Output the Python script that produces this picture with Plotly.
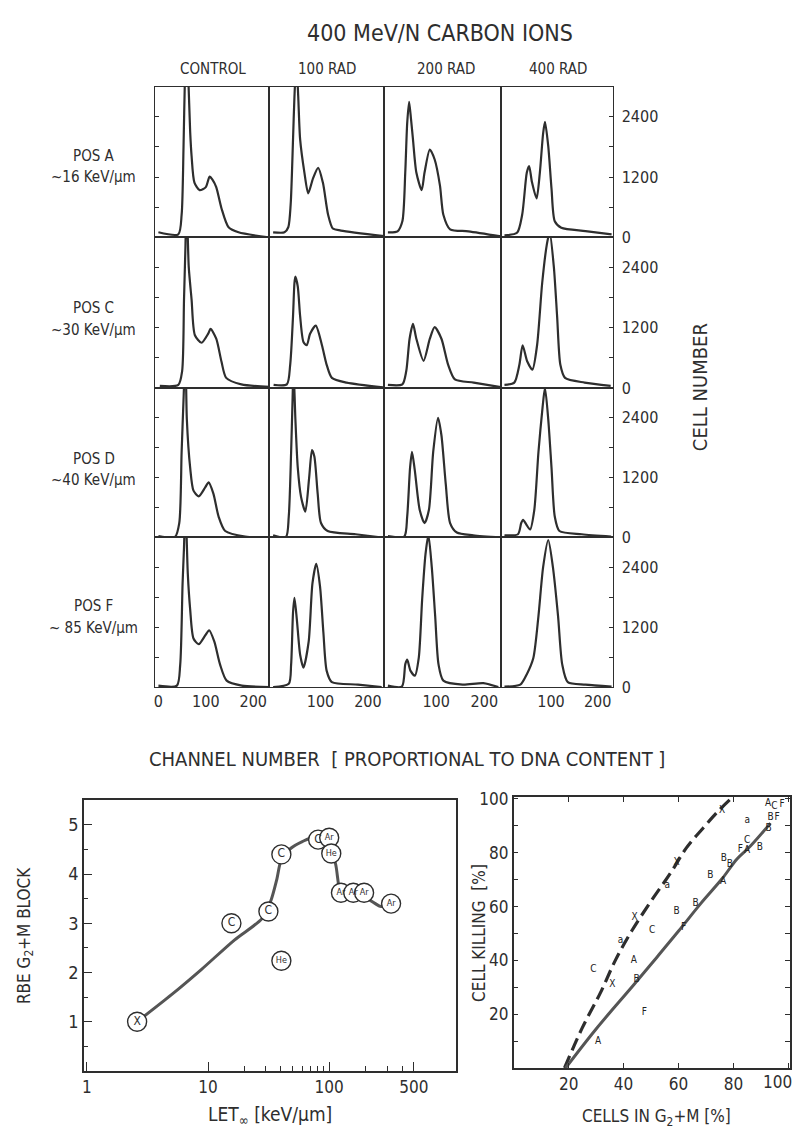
import plotly.graph_objects as go

W, H = 794, 1139
FONT = "DejaVu Sans Condensed, Liberation Sans Narrow, Roboto Condensed, DejaVu Sans, sans-serif"
INK = "#2e2e2e"

# ---------------- DNA histograms (channel number, cell number) ----------------
COL_TITLES = ["CONTROL", "100 RAD", "200 RAD", "400 RAD"]
ROW_TITLES = ["POS A", "POS C", "POS D", "POS F"]
ROW_LET = ["~16 KeV/µm", "~30 KeV/µm", "~40 KeV/µm", "~ 85 KeV/µm"]

A_CTRL_CH = [0, 42, 49, 53, 56, 59, 63, 67, 70, 76, 87, 100, 108, 114, 122, 133, 148, 169, 232]
A_CTRL_N = [100, 60, 450, 1800, 3200, 3900, 3200, 2100, 1620, 1090, 940, 1000, 1210, 1150, 1000, 580, 200, 100, 0]
A_100_CH = [0, 24, 32, 37, 42, 45, 49, 53, 57, 66, 74, 84, 95, 105, 116, 126, 143, 234]
A_100_N = [100, 100, 200, 650, 1950, 2800, 3500, 2800, 1950, 1290, 875, 1170, 1385, 1090, 450, 175, 135, 25]
A_200_CH = [0, 20, 30, 36, 40, 44, 48, 52, 59, 70, 76, 87, 97, 108, 115, 129, 167, 234]
A_200_N = [100, 120, 320, 1290, 2270, 2700, 2350, 1950, 1290, 940, 1290, 1750, 1550, 1030, 450, 160, 120, 20]
A_400_CH = [0, 27, 38, 48, 53, 59, 69, 76, 83, 87, 94, 101, 108, 122, 174, 230]
A_400_N = [40, 90, 450, 1290, 1420, 1100, 775, 1290, 2070, 2300, 1815, 970, 320, 190, 125, 60]

C_CTRL_CH = [3, 42, 50, 54, 57, 59, 61, 64, 70, 77, 91, 105, 110, 122, 133, 143, 175, 234]
C_CTRL_N = [40, 60, 330, 1760, 2800, 3600, 3300, 2410, 1760, 1050, 900, 1080, 1175, 980, 525, 200, 70, 20]
C_100_CH = [1, 29, 36, 42, 45, 47, 52, 57, 64, 71, 78, 90, 103, 113, 124, 155, 232]
C_100_N = [60, 70, 460, 1430, 2090, 2215, 2020, 1430, 915, 850, 1080, 1240, 850, 460, 200, 105, 10]
C_200_CH = [0, 30, 38, 45, 52, 59, 74, 87, 97, 111, 125, 139, 178, 234]
C_200_N = [60, 70, 330, 980, 1275, 980, 540, 980, 1210, 980, 460, 170, 105, 15]
C_400_CH = [0, 21, 32, 39, 49, 60, 70, 81, 91, 97, 106, 113, 120, 130, 172, 228]
C_400_N = [60, 105, 460, 850, 525, 365, 850, 2090, 2860, 3100, 2410, 1430, 460, 200, 105, 40]

D_CTRL_CH = [0, 35, 44, 49, 53, 57, 60, 67, 74, 85, 99, 106, 116, 127, 141, 183, 234]
D_CTRL_N = [30, 10, 290, 1720, 2760, 3700, 2370, 1400, 940, 825, 1010, 1105, 880, 420, 130, 20, 0]
D_100_CH = [0, 27, 33, 38, 41, 43, 47, 52, 59, 68, 76, 82, 87, 94, 101, 115, 174, 230]
D_100_N = [45, 10, 420, 1720, 2760, 3400, 2370, 1400, 810, 520, 1200, 1755, 1625, 880, 290, 130, 65, 0]
D_200_CH = [0, 34, 40, 46, 50, 56, 66, 76, 85, 94, 104, 111, 120, 129, 143, 177, 234]
D_200_N = [30, 20, 420, 1400, 1720, 1330, 550, 290, 550, 1720, 2400, 2050, 1070, 290, 100, 45, 0]
D_400_CH = [0, 29, 36, 40, 47, 55, 64, 73, 82, 87, 94, 101, 108, 118, 166, 229]
D_400_N = [45, 65, 290, 355, 260, 160, 550, 1720, 2630, 3000, 2370, 1400, 420, 130, 65, 20]

F_CTRL_CH = [0, 39, 46, 51, 54, 57, 62, 67, 74, 85, 99, 107, 118, 130, 144, 176, 234]
F_CTRL_N = [30, 30, 450, 2080, 2800, 3700, 2275, 1560, 975, 860, 1040, 1140, 910, 455, 130, 30, 0]
F_100_CH = [0, 33, 38, 42, 45, 50, 57, 64, 75, 83, 91, 99, 106, 113, 124, 179, 229]
F_100_N = [0, 65, 455, 1495, 1790, 1365, 650, 390, 910, 2080, 2470, 2015, 1100, 325, 100, 50, 0]
F_200_CH = [0, 29, 36, 40, 47, 56, 64, 71, 78, 84, 91, 98, 105, 115, 155, 198, 229]
F_200_N = [30, 10, 455, 550, 325, 230, 585, 1755, 2665, 3050, 2405, 1430, 455, 130, 50, 80, 0]
F_400_CH = [0, 34, 48, 62, 73, 83, 94, 104, 115, 124, 136, 174, 230]
F_400_N = [10, 50, 260, 585, 1430, 2405, 2950, 2405, 1430, 455, 100, 50, 10]

COUNT_TICKS = [0, 1200, 2400]
COUNT_MINOR = [600, 1800]
CHANNEL_TICKS_FIRST = [0, 100, 200]
CHANNEL_TICKS_OTHER = [100, 200]

# ---------------- RBE vs LET ----------------
LET_PTS = [2.6, 15.6, 40.3, 31.5, 40.3, 81, 100, 104, 125, 158, 194, 324]
RBE_PTS = [1.0, 3.0, 2.24, 3.24, 4.4, 4.7, 4.74, 4.42, 3.62, 3.62, 3.62, 3.4]
ION_LABELS = ["X", "C", "He", "C", "C", "C", "Ar", "He", "Ar", "Ar", "Ar", "Ar"]
FIT_LET = [2.6, 5, 8.8, 16.5, 28, 33, 37, 40.3, 48, 60, 73, 100, 113, 125, 140, 158, 176, 194, 209, 240, 268, 324]
FIT_RBE = [1.0, 1.55, 2.06, 2.66, 3.1, 3.46, 3.9, 4.3, 4.52, 4.66, 4.74, 4.6, 4.2, 3.62, 3.62, 3.62, 3.62, 3.6, 3.5, 3.4, 3.34, 3.4]
LET_TICKS = [1, 10, 100, 500]
LET_MINOR = [20, 30, 40, 50, 60, 70, 80, 90, 200, 300, 400]
RBE_TICKS = [1, 2, 3, 4, 5]
RBE_MINOR = [0.5, 1.5, 2.5, 3.5, 4.5]

# ---------------- Cell killing vs G2+M ----------------
G2M_PTS = [75.9, 59.3, 55.9, 44.0, 92.6, 94.9, 97.7, 93.5, 95.9, 85.0, 92.8, 85.0, 85.0, 82.5, 89.6,
           76.5, 78.7, 71.6, 76.2, 66.2, 59.3, 50.4, 61.9, 38.9, 43.7, 29.0, 35.9, 44.7, 47.6, 30.7]
KILL_PTS = [95.6, 76.3, 68.0, 55.9, 98.3, 97.1, 98.1, 93.2, 93.2, 92.0, 88.9, 84.4, 80.7, 81.3, 82.0,
            77.7, 75.6, 71.6, 69.2, 61.0, 58.1, 51.0, 52.3, 47.2, 40.1, 36.5, 31.0, 32.8, 20.5, 9.8]
KILL_LABELS = ["X", "X", "a", "X", "A", "C", "F", "B", "F", "a", "B", "C", "A", "F", "B",
               "B", "B", "B", "A", "B", "B", "C", "F", "a", "A", "C", "X", "B", "F", "A"]
XRAY_FIT_X = [18.5, 25, 31.6, 37, 43, 50, 57, 63, 69, 74, 79]
XRAY_FIT_Y = [0, 15, 28, 40, 51, 62, 72.3, 82, 89.2, 95, 100]
ION_FIT_X = [18.9, 30, 43.8, 52, 60.1, 68, 76, 81.3, 86.2, 93.5]
ION_FIT_Y = [0, 14.5, 31, 41, 51, 61, 70.5, 77.7, 82.5, 91]
G2M_TICKS = [20, 40, 60, 80, 100]
KILL_TICKS = [20, 40, 60, 80, 100]

# ---------------- geometry (pixels) ----------------
COL_EDGES = [153, 268, 383, 500, 613]
ROW_EDGES = [80, 233, 386, 538, 690]


def px(x):
    return x / W


def py(y):
    return 1 - y / H


fig = go.Figure()
layout = {}

panels = [
    [(A_CTRL_CH, A_CTRL_N), (A_100_CH, A_100_N), (A_200_CH, A_200_N), (A_400_CH, A_400_N)],
    [(C_CTRL_CH, C_CTRL_N), (C_100_CH, C_100_N), (C_200_CH, C_200_N), (C_400_CH, C_400_N)],
    [(D_CTRL_CH, D_CTRL_N), (D_100_CH, D_100_N), (D_200_CH, D_200_N), (D_400_CH, D_400_N)],
    [(F_CTRL_CH, F_CTRL_N), (F_100_CH, F_100_N), (F_200_CH, F_200_N), (F_400_CH, F_400_N)],
]

tickfont = dict(family=FONT, size=16, color=INK)

for r in range(4):
    for c in range(4):
        k = r * 4 + c + 1
        sfx = "" if k == 1 else str(k)
        ch, n = panels[r][c]
        fig.add_trace(go.Scatter(
            x=ch, y=n, mode="lines",
            line=dict(color=INK, width=2.2, shape="spline", smoothing=0.7),
            xaxis="x" + sfx, yaxis="y" + sfx, showlegend=False, hoverinfo="skip"))
        xa = dict(domain=[px(COL_EDGES[c]), px(COL_EDGES[c + 1])], range=[-8, 234],
                  anchor="y" + sfx, showline=True, mirror=True, linecolor=INK, linewidth=1.1,
                  showgrid=False, zeroline=False, ticks="", showticklabels=False, fixedrange=True)
        if r == 3:
            xa.update(showticklabels=True,
                      tickvals=CHANNEL_TICKS_FIRST if c == 0 else CHANNEL_TICKS_OTHER,
                      tickfont=tickfont)
        ya = dict(domain=[py(ROW_EDGES[r + 1]), py(ROW_EDGES[r])], range=[0, 3000],
                  anchor="x" + sfx, showline=True, mirror=True, linecolor=INK, linewidth=1.1,
                  showgrid=False, zeroline=False, ticks="", showticklabels=False, fixedrange=True)
        if c == 0:
            ya.update(ticks="inside", tickvals=COUNT_TICKS[1:], ticklen=4, tickcolor=INK,
                      minor=dict(ticks="inside", ticklen=4, tickcolor=INK, tickvals=COUNT_MINOR))
        if c == 3:
            ya.update(side="right", ticks="inside", tickvals=COUNT_TICKS,
                      ticklen=4, tickcolor=INK, showticklabels=True, tickfont=tickfont,
                      ticklabelstandoff=4,
                      minor=dict(ticks="inside", ticklen=4, tickcolor=INK, tickvals=COUNT_MINOR))
        layout["xaxis" + sfx] = xa
        layout["yaxis" + sfx] = ya

# ---------------- RBE vs LET panel (axis 17) ----------------
fig.add_trace(go.Scatter(x=FIT_LET, y=FIT_RBE, mode="lines",
                         line=dict(color="#555555", width=3, shape="spline", smoothing=0.8),
                         xaxis="x17", yaxis="y17", showlegend=False, hoverinfo="skip"))
fig.add_trace(go.Scatter(x=LET_PTS, y=RBE_PTS, mode="markers+text", text=ION_LABELS,
                         textposition="middle center",
                         textfont=dict(family=FONT, size=[12 if len(t) == 1 else 9 for t in ION_LABELS],
                                       color=INK),
                         marker=dict(symbol="circle", size=19, color="white",
                                     line=dict(color=INK, width=1.4)),
                         xaxis="x17", yaxis="y17", showlegend=False, hoverinfo="skip"))
layout["xaxis17"] = dict(domain=[px(82), px(455)], type="log", range=[-0.025, 3.045], anchor="y17",
                         showline=True, mirror=True, linecolor=INK, linewidth=1.5, showgrid=False,
                         zeroline=False, ticks="inside", ticklen=9, tickcolor=INK,
                         tickvals=LET_TICKS, ticktext=[str(v) for v in LET_TICKS],
                         tickfont=dict(family=FONT, size=17, color=INK),
                         minor=dict(ticks="inside", ticklen=5, tickcolor=INK, tickvals=LET_MINOR),
                         fixedrange=True)
layout["yaxis17"] = dict(domain=[py(1080), py(805)], range=[0, 5.5], anchor="x17",
                         showline=True, mirror=True, linecolor=INK, linewidth=1.5, showgrid=False,
                         zeroline=False, ticks="inside", ticklen=8, tickcolor=INK,
                         tickvals=RBE_TICKS, tickfont=dict(family=FONT, size=18, color=INK),
                         minor=dict(ticks="inside", ticklen=4, tickcolor=INK, tickvals=RBE_MINOR),
                         fixedrange=True)

# ---------------- Cell killing panel (axis 18) ----------------
fig.add_trace(go.Scatter(x=XRAY_FIT_X, y=XRAY_FIT_Y, mode="lines",
                         line=dict(color=INK, width=3.2, dash="13px,6px", shape="spline"),
                         xaxis="x18", yaxis="y18", showlegend=False, hoverinfo="skip"))
fig.add_trace(go.Scatter(x=ION_FIT_X, y=ION_FIT_Y, mode="lines",
                         line=dict(color="#555555", width=3, shape="spline"),
                         xaxis="x18", yaxis="y18", showlegend=False, hoverinfo="skip"))
fig.add_trace(go.Scatter(x=G2M_PTS, y=KILL_PTS, mode="text", text=KILL_LABELS,
                         textposition="middle center",
                         textfont=dict(family=FONT, size=10, color="#222222"),
                         xaxis="x18", yaxis="y18", showlegend=False, hoverinfo="skip"))
layout["xaxis18"] = dict(domain=[px(513), px(790)], range=[0, 100.6], anchor="y18",
                         showline=True, mirror="ticks", linecolor=INK, linewidth=1.5, showgrid=False,
                         zeroline=False, ticks="inside", ticklen=5, tickcolor=INK,
                         tickvals=G2M_TICKS, tickfont=dict(family=FONT, size=17, color=INK),
                         fixedrange=True)
layout["yaxis18"] = dict(domain=[py(1077), py(802)], range=[0, 100.6], anchor="x18",
                         showline=True, mirror="ticks", linecolor=INK, linewidth=1.5, showgrid=False,
                         zeroline=False, ticks="inside", ticklen=5, tickcolor=INK,
                         tickvals=KILL_TICKS, tickfont=dict(family=FONT, size=17, color=INK),
                         minor=dict(ticks="inside", ticklen=5, tickcolor=INK, dtick=10),
                         fixedrange=True)

# ---------------- text ----------------
annotations = []


def ann(text, x, y, size, angle=0, xanchor="center"):
    annotations.append(dict(text=text, x=px(x), y=py(y), xref="paper", yref="paper",
                            xanchor=xanchor, yanchor="middle", showarrow=False, textangle=angle,
                            font=dict(family=FONT, size=size, color=INK)))


ann("400 MeV/N CARBON IONS", 439, 25, 23)
for t, x in zip(COL_TITLES, [212, 326, 445, 557]):
    ann(t, x, 62, 15)
for t, l, y in zip(ROW_TITLES, ROW_LET, [150, 305, 458, 608]):
    ann(t, 92, y, 15)
    ann(l, 92, y + 22, 15)
ann("CELL NUMBER", 700, 385, 20, angle=-90)
ann("CHANNEL NUMBER  [ PROPORTIONAL TO DNA CONTENT ]", 406, 763, 20)
ann("RBE G<sub>2</sub>+M BLOCK", 23, 942, 17, angle=-90)
ann("LET<sub>∞</sub> [keV/µm]", 269, 1125, 19)
ann("CELL KILLING  [%]", 478, 940, 17, angle=-90)
ann("CELLS IN G<sub>2</sub>+M [%]", 656, 1127, 17)
# last x tick label of the right panel sits at the page edge: pin it inside the page
ann(str(G2M_TICKS[-1]), 794, 1091, 17, xanchor="right")

fig.update_layout(width=W, height=H, margin=dict(l=0, r=0, t=0, b=0),
                  paper_bgcolor="white", plot_bgcolor="rgba(0,0,0,0)",
                  annotations=annotations, showlegend=False, **layout)

fig.write_html("out.html", config={"displayModeBar": False})
